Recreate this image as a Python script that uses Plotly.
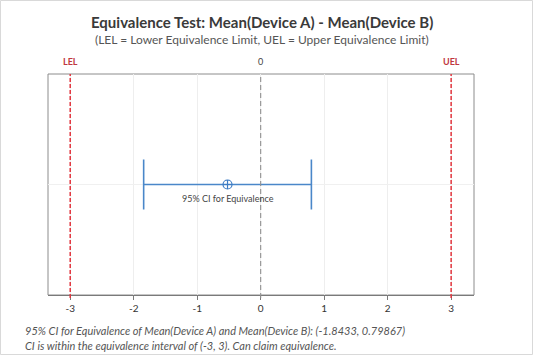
import plotly.graph_objects as go

# Data
ci_lower = -1.8433
ci_upper = 0.79867
estimate = (ci_lower + ci_upper) / 2
lel = -3
uel = 3
ref_value = 0
x_ticks = [-3, -2, -1, 0, 1, 2, 3]
ci_label = "95% CI for Equivalence"

FONT = "Lato, 'Open Sans', sans-serif"
W, H = 534, 356
ML, MR, MT, MB = 48, 60, 74, 61
PW, PH = W - ML - MR, H - MT - MB

fig = go.Figure()

fig.add_trace(go.Scatter(
    x=[estimate], y=[0.5], mode="markers",
    marker=dict(symbol="circle-cross-open", size=9, color="#3d7cc4", line=dict(width=1.2)),
    error_x=dict(type="data", symmetric=False,
                 array=[ci_upper - estimate], arrayminus=[estimate - ci_lower],
                 color="#4a87c9", thickness=1.6, width=25),
    showlegend=False, hoverinfo="skip",
))

shapes = []
for xv, col, dash, w in [(lel, "#e2363e", "4px,2px", 1.5), (uel, "#e2363e", "4px,2px", 1.5),
                         (ref_value, "#8f8f8f", "5px,3px", 1.1)]:
    shapes.append(dict(type="line", xref="x", yref="paper", x0=xv, x1=xv, y0=-3 / PH, y1=1.0,
                       line=dict(color=col, width=w, dash=dash), layer="above"))
# plot frame
shapes.append(dict(type="rect", xref="paper", yref="paper", x0=0, x1=1, y0=0, y1=1,
                   line=dict(color="#8c8c8c", width=1), layer="below"))
# outer figure border
shapes.append(dict(type="rect", xref="paper", yref="paper",
                   x0=-(ML - 0.5) / PW, x1=1 + (MR - 1.5) / PW,
                   y0=-(MB - 1.5) / PH, y1=1 + (MT - 0.5) / PH,
                   line=dict(color="#d9d9d9", width=1)))

annotations = [
    dict(text="<b>Equivalence Test: Mean(Device A) - Mean(Device B)</b>", xref="paper", yref="paper",
         x=(262 - ML) / PW, y=1 + (MT - 22) / PH, xanchor="center", yanchor="middle",
         showarrow=False, font=dict(family=FONT, size=15, color="#3a3a3a")),
    dict(text="(LEL = Lower Equivalence Limit, UEL = Upper Equivalence Limit)", xref="paper", yref="paper",
         x=(262 - ML) / PW, y=1 + (MT - 39) / PH, xanchor="center", yanchor="middle",
         showarrow=False, font=dict(family=FONT, size=12, color="#555555")),
    dict(text="<b>LEL</b>", x=lel, xref="x", yref="paper", y=1 + 5 / PH, xanchor="center", yanchor="bottom",
         showarrow=False, font=dict(family=FONT, size=9, color="#c0383f")),
    dict(text="<b>UEL</b>", x=uel, xref="x", yref="paper", y=1 + 5 / PH, xanchor="center", yanchor="bottom",
         showarrow=False, font=dict(family=FONT, size=9, color="#c0383f")),
    dict(text=str(ref_value), x=ref_value, xref="x", yref="paper", y=1 + 5 / PH, xanchor="center", yanchor="bottom",
         showarrow=False, font=dict(family=FONT, size=9, color="#444444")),
    dict(text=ci_label, x=estimate, y=0.5, xref="x", yref="y", yshift=-14, xanchor="center", yanchor="middle",
         showarrow=False, font=dict(family=FONT, size=9, color="#444444")),
    dict(text=f"<i>95% CI for Equivalence of Mean(Device A) and Mean(Device B): ({ci_lower}, {ci_upper})</i>",
         xref="paper", yref="paper", x=(23 - ML) / PW, y=-(330 - (H - MB)) / PH, xanchor="left", yanchor="middle",
         showarrow=False, font=dict(family=FONT, size=11, color="#555555")),
    dict(text=f"<i>CI is within the equivalence interval of ({lel}, {uel}). Can claim equivalence.</i>",
         xref="paper", yref="paper", x=(23 - ML) / PW, y=-(345 - (H - MB)) / PH, xanchor="left", yanchor="middle",
         showarrow=False, font=dict(family=FONT, size=11, color="#555555")),
]

fig.update_layout(
    width=W, height=H,
    margin=dict(l=ML, r=MR, t=MT, b=MB, autoexpand=False),
    paper_bgcolor="white", plot_bgcolor="white",
    shapes=shapes, annotations=annotations,
    xaxis=dict(range=[-3.35, 3.36], tickvals=x_ticks, ticktext=[str(t) for t in x_ticks],
               showgrid=True, gridcolor="#eeeeee", gridwidth=1, zeroline=False,
               showline=True, linecolor="#7a7a7a", linewidth=1,
               ticks="outside", ticklen=4, tickcolor="#7a7a7a",
               tickfont=dict(family=FONT, size=10, color="#333333"), fixedrange=True),
    yaxis=dict(range=[0, 1], tickvals=[0.5], showticklabels=False, showgrid=True, gridcolor="#f0f0f0",
               zeroline=False, showline=False, ticks="", fixedrange=True),
    font=dict(family=FONT),
)

fig.write_html("out.html", config={"displayModeBar": False},
               post_script="document.body.style.margin='0';document.body.style.overflow='hidden';")
